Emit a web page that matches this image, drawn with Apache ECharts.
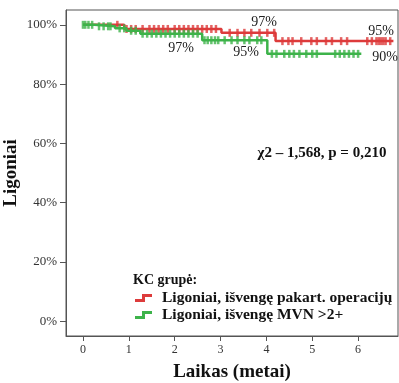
<!DOCTYPE html>
<html><head><meta charset="utf-8">
<script src="https://cdn.jsdelivr.net/npm/echarts@6/dist/echarts.min.js"></script>
<style>html,body{margin:0;padding:0;background:#fff}#c{width:399px;height:383px}</style>
</head><body><div id="c"></div>
<script>
// Kaplan-Meier step data (time in years, survival in %)
const redTimes   = [0, 0.9, 3.02, 4.2, 6.77];
const redSurv    = [100, 98.6, 97.3, 94.5, 94.5];
const greenTimes = [0, 0.25, 0.7, 0.95, 1.25, 2.6, 4.02, 6.07];
const greenSurv  = [100, 99.5, 98.8, 98, 97, 94.8, 90.2, 90.2];
// censoring times
const redCensor = [0.75,0.95,1.05,1.15,1.3,1.45,1.55,1.65,1.75,1.85,2.0,2.1,2.2,2.3,2.4,2.5,2.6,2.7,2.8,2.9,
  3.2,3.37,3.52,3.67,3.85,4.02,4.17,
  4.35,4.48,4.57,4.76,4.98,5.1,5.3,5.43,5.63,5.76,6.2,6.3,6.4,6.45,6.5,6.55,6.6,6.7];
const greenCensor = [0,0.05,0.12,0.2,0.35,0.45,0.55,0.6,0.8,0.9,1.05,1.15,
  1.3,1.4,1.5,1.6,1.7,1.8,1.9,2.0,2.1,2.2,2.3,2.4,2.5,
  2.65,2.72,2.8,2.88,2.95,3.09,3.24,3.37,3.52,3.63,3.8,3.89,
  4.12,4.22,4.39,4.5,4.6,4.72,4.87,5.0,5.1,5.5,5.6,5.7,5.8,5.9,6.0];
const xTicks = [0,1,2,3,4,5,6];
const yTicks = [0,20,40,60,80,100];
const seriesNames = ['Ligoniai, išvengę pakart. operacijų','Ligoniai, išvengę MVN >2+'];
const legendTitle = 'KC grupė:';
const statText = 'χ2 – 1,568, p = 0,210';
const annotations = [
  {text:'97%', x:264, y:22},
  {text:'95%', x:381, y:31},
  {text:'97%', x:181, y:48},
  {text:'95%', x:246, y:52},
  {text:'90%', x:385, y:57}
];

const RED = '#dd3b3b', GREEN = '#3db34a';
const serif = '"Liberation Serif","DejaVu Serif",serif';

function survAt(times, surv, t){ let v = surv[0]; for(let i=0;i<times.length;i++){ if(times[i]<=t) v=surv[i]; } return v; }
const pairs = (ts, ss) => ts.map((t,i)=>[t, ss[i]]);

const chart = echarts.init(document.getElementById('c'));
chart.setOption({
  animation:false,
  grid:{left:66, top:10, right:1, bottom:47, show:true, borderColor:'#555', borderWidth:1,
    containLabel:false, outerBoundsMode:'none'},
  xAxis:{type:'value', min:-0.37, max:6.87,
    axisLine:{show:true, onZero:false, lineStyle:{color:'#555'}},
    splitLine:{show:false},
    axisTick:{show:true, length:5, customValues:xTicks, lineStyle:{color:'#555'}},
    axisLabel:{customValues:xTicks, color:'#333', fontFamily:serif, fontSize:12, margin:8},
    name:'Laikas (metai)', nameLocation:'middle', nameGap:27, nameMoveOverlap:false,
    nameTextStyle:{fontFamily:serif, fontWeight:'bold', fontSize:19, color:'#111'}
  },
  yAxis:{type:'value', min:-5, max:105,
    axisLine:{show:true, onZero:false, lineStyle:{color:'#555'}},
    splitLine:{show:false},
    axisTick:{show:true, length:6, customValues:yTicks, lineStyle:{color:'#555'}},
    axisLabel:{customValues:yTicks, formatter:'{value}%', color:'#333', fontFamily:serif, fontSize:13, margin:9},
    name:'Ligoniai', nameLocation:'middle', nameGap:45, nameMoveOverlap:false,
    nameTextStyle:{fontFamily:serif, fontWeight:'bold', fontSize:19, color:'#111'}
  },
  legend:{
    data:[
      {name:seriesNames[0], icon:'path://M0,6 L7,6 L7,1 L17,1 L17,4 L10,4 L10,9 L0,9 Z'},
      {name:seriesNames[1], icon:'path://M0,6 L7,6 L7,1 L17,1 L17,4 L10,4 L10,9 L0,9 Z'}
    ],
    orient:'vertical', left:135, top:290, itemWidth:17, itemHeight:8, itemGap:1, padding:0,
    textStyle:{fontFamily:serif, fontWeight:'bold', fontSize:15.5, color:'#111', padding:[0,0,0,5]},
    selectedMode:false
  },
  graphic:[
    {type:'text', left:133, top:273, style:{text:legendTitle, font:'bold 14px '+serif, fill:'#111'}},
    {type:'text', x:322, y:153, style:{text:statText, font:'bold 15px '+serif, fill:'#111', align:'center', verticalAlign:'middle'}}
  ].concat(annotations.map(a=>({type:'text', x:a.x, y:a.y, z:10,
    style:{text:a.text, font:'14px '+serif, fill:'#222', align:'center', verticalAlign:'middle'}}))),
  series:[
    {name:seriesNames[0], type:'line', step:'end', data:pairs(redTimes, redSurv), showSymbol:false,
      lineStyle:{color:RED, width:2.5}, itemStyle:{color:RED}, z:3},
    {name:seriesNames[1], type:'line', step:'end', data:pairs(greenTimes, greenSurv), showSymbol:false,
      lineStyle:{color:GREEN, width:2.5}, itemStyle:{color:GREEN}, z:4},
    {name:'rc', type:'scatter', data:redCensor.map(t=>[t, survAt(redTimes, redSurv, t)]),
      symbol:'rect', symbolSize:[2.5,8], itemStyle:{color:RED}, z:3},
    {name:'gc', type:'scatter', data:greenCensor.map(t=>[t, survAt(greenTimes, greenSurv, t)]),
      symbol:'rect', symbolSize:[2.5,8], itemStyle:{color:GREEN}, z:4}
  ]
});
</script></body></html>
